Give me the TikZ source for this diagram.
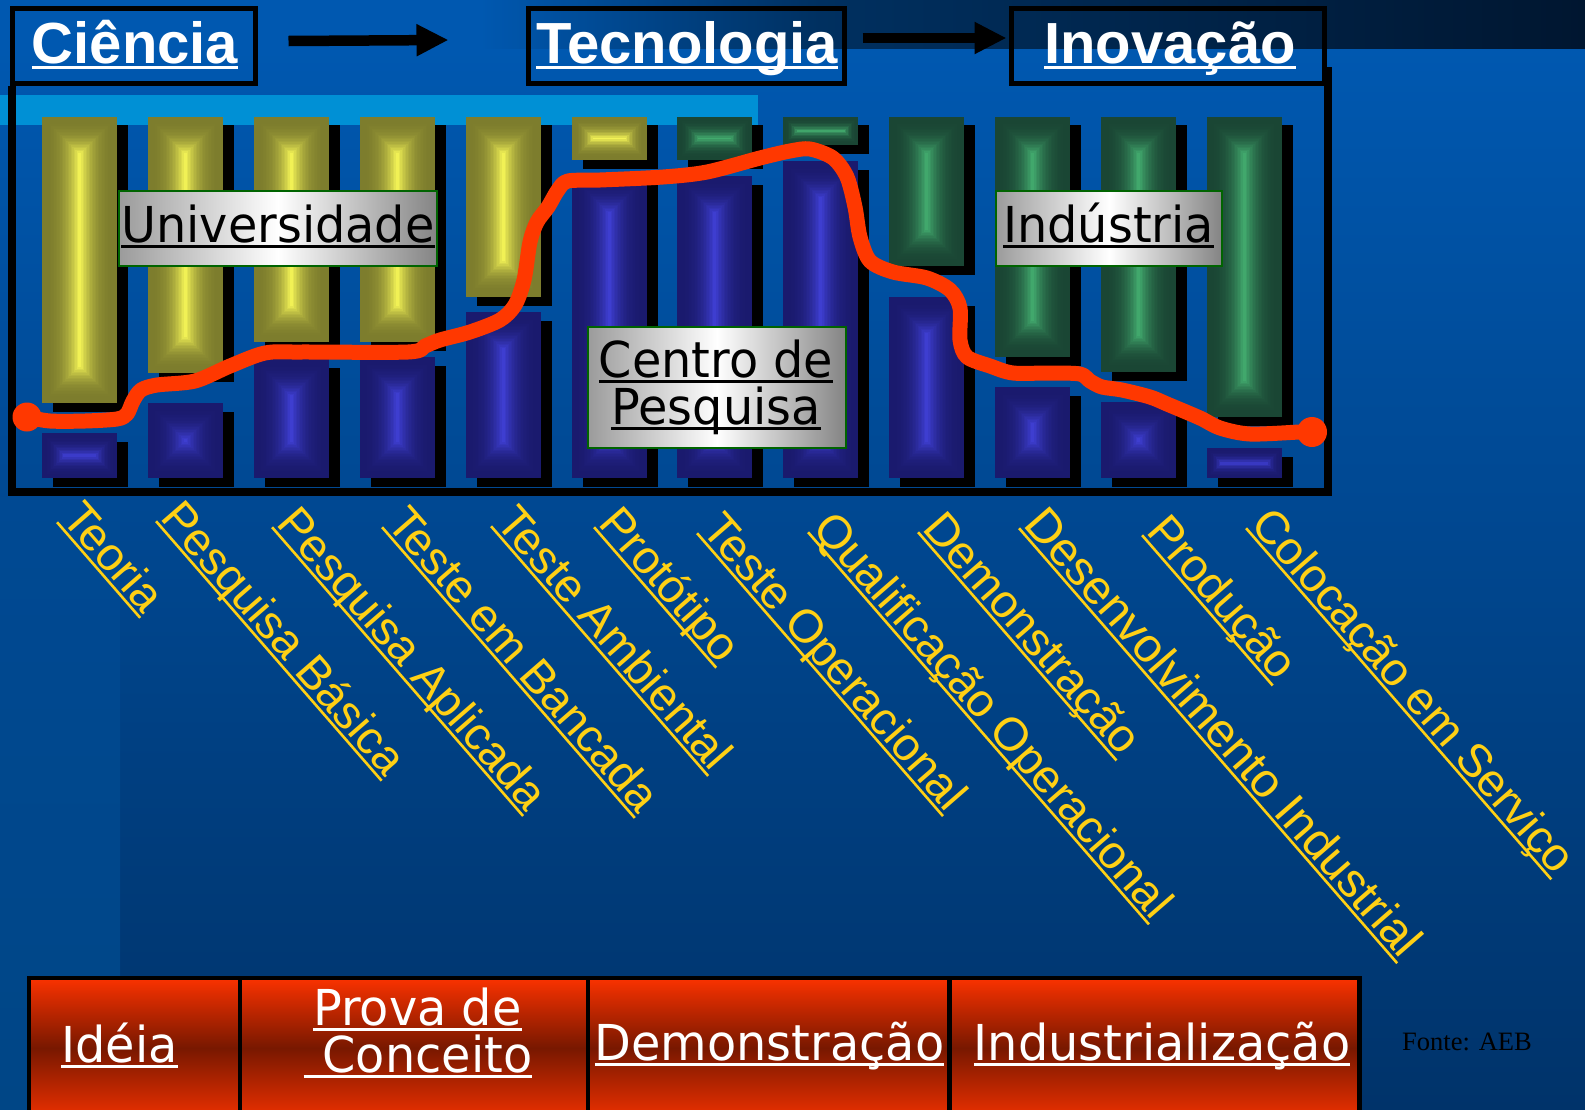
\documentclass[tikz,border=0pt]{standalone}
\usepackage{fontspec}
\usetikzlibrary{arrows.meta}
\setmainfont{Liberation Sans}
\newfontfamily\dvs[FakeStretch=0.965]{DejaVu Sans}
\newfontfamily\lserif{Liberation Serif}
\newsavebox\ulxbox
\newcommand\ulx[1]{\sbox\ulxbox{#1}\rlap{\vrule height -3.4pt depth 6pt width \wd\ulxbox}\usebox\ulxbox}
\definecolor{bgA}{RGB}{0,88,176}
\definecolor{bgB}{RGB}{0,51,106}
\definecolor{stripA}{RGB}{0,73,147}
\definecolor{stripB}{RGB}{0,70,134}
\definecolor{navyA}{RGB}{0,48,96}
\definecolor{navyB}{RGB}{0,22,48}
\definecolor{cyanband}{RGB}{0,144,213}
\definecolor{yo}{RGB}{125,125,45}
\definecolor{yi}{RGB}{255,255,90}
\definecolor{bo}{RGB}{26,26,110}
\definecolor{bi}{RGB}{66,66,220}
\definecolor{go}{RGB}{26,70,52}
\definecolor{gi}{RGB}{70,180,115}
\definecolor{redcurve}{RGB}{255,56,0}
\definecolor{labyellow}{RGB}{255,208,20}
\definecolor{metalg}{RGB}{155,155,155}
\definecolor{metalb}{RGB}{0,100,0}
\definecolor{rtop}{RGB}{250,50,0}
\definecolor{rmid}{RGB}{120,24,0}
\definecolor{rbot}{RGB}{236,48,0}
\newcommand\pbar[5]{%
  \fill[black] ({#1+11},{#2+8.5}) rectangle ({#1+86},{#3+8.5});
  \pgfmathsetmacro\pbh{#3-#2}%
  \pgfmathsetmacro\pbn{min(37.5,\pbh/2)}%
  \foreach \k in {0,...,25}{%
    \pgfmathsetmacro\ins{\k*1.5}%
    \pgfmathtruncatemacro\ok{\ins<\pbn}%
    \ifnum\ok=1
      \pgfmathtruncatemacro\pct{100*(\ins/\pbn)^2.6}%
      \fill[#5!\pct!#4] ({#1+\ins},{#2+\ins}) rectangle ({#1+75-\ins},{#3-\ins});%
    \fi
  }%
}
\begin{document}
\begin{tikzpicture}[x=1pt,y=-1pt,
  hbox/.style={draw=black, line width=5pt, inner sep=0pt, minimum height=75pt},
  htext/.style={anchor=base, inner sep=0pt, text=white, font=\bfseries\fontsize{58}{58}\selectfont},
  harrow/.style={line width=10.5pt, -{Triangle[length=32pt,width=30pt]}},
  rlab/.style={anchor=base west, rotate=-49, inner sep=0pt, text=labyellow, font=\fontsize{46.5}{46.5}\selectfont},
  metal/.style={draw=metalb, line width=2pt, inner sep=0pt, left color=metalg, right color=metalg!85!black, middle color=white},
  mtext/.style={anchor=base, inner sep=0pt, text=black, font=\dvs\fontsize{49.5}{49.5}\selectfont},
  cell/.style={draw=black, line width=4.5pt, inner sep=0pt, minimum height=140pt, top color=rtop, bottom color=rbot, middle color=rmid},
  ctext/.style={anchor=base, inner sep=0pt, text=white, font=\dvs\fontsize{49.5}{49.5}\selectfont}
]
\useasboundingbox (0,0) rectangle (1585,1109);
\begin{scope}
\clip (0,0) rectangle (1585,1109);
% background
\fill[bgA] (0,0) rectangle (1585,1109);
\shade[top color=bgA, bottom color=bgB] (0,48) rectangle (1585,1109);
\shade[left color=bgA, right color=navyA] (480,0) rectangle (820,48);
\shade[left color=navyA, right color=navyB] (820,0) rectangle (1585,48);
\shade[top color=stripA, bottom color=stripB] (0,497) rectangle (120,1109);
\fill[cyanband] (0,95) rectangle (758,125);
% bars
\pbar{42}{116.5}{403}{yo}{yi}      \pbar{42}{433}{478}{bo}{bi}
\pbar{147.9}{116.5}{373}{yo}{yi}   \pbar{147.9}{403}{478}{bo}{bi}
\pbar{253.8}{116.5}{342}{yo}{yi}   \pbar{253.8}{359}{478}{bo}{bi}
\pbar{359.7}{116.5}{342}{yo}{yi}   \pbar{359.7}{357}{478}{bo}{bi}
\pbar{465.6}{116.5}{297}{yo}{yi}   \pbar{465.6}{312}{478}{bo}{bi}
\pbar{571.5}{116.5}{160}{yo}{yi}   \pbar{571.5}{176}{478}{bo}{bi}
\pbar{677.4}{116.5}{160}{go}{gi}   \pbar{677.4}{176}{478}{bo}{bi}
\pbar{783.3}{116.5}{145}{go}{gi}   \pbar{783.3}{161}{478}{bo}{bi}
\pbar{889.2}{116.5}{266}{go}{gi}   \pbar{889.2}{297}{478}{bo}{bi}
\pbar{995.1}{116.5}{357}{go}{gi}   \pbar{995.1}{387}{478}{bo}{bi}
\pbar{1101}{116.5}{372}{go}{gi}    \pbar{1101}{402}{478}{bo}{bi}
\pbar{1206.9}{116.5}{417}{go}{gi}  \pbar{1206.9}{448}{478}{bo}{bi}
% frame
\draw[line width=8pt] (11.5,86) -- (11.5,492) -- (1328,492) -- (1328,67);
% label boxes
\node[metal, minimum width=318pt, minimum height=75pt] (univ) at (278,228.5) {};
\node[mtext] (univt) at (278,242) {\ulx{Universidade}};
\node[metal, minimum width=226pt, minimum height=75pt] (ind) at (1109,228.5) {};
\node[mtext] (indt) at (1108.5,242) {\ulx{Indústria}};
\node[metal, minimum width=258pt, minimum height=121pt] (cen) at (717,387.5) {};
\node[mtext] (cent1) at (716,377) {\ulx{Centro de}};
\node[mtext] (cent2) at (716,424) {\ulx{Pesquisa}};
% red curve
\draw[redcurve, line width=15pt, line cap=round, line join=round]
  plot[smooth, tension=0.5] coordinates {
  (27,417) (50,421) (85,421) (117,419) (127,414) (133,401) (141,390) (157,385)
  (195,381) (230,366) (265,353) (300,352) (408,352) (425,346) (440,340) (470,332)
  (500,320) (515,305) (524,280) (530,242) (537,222) (548,207) (558,190) (568,181)
  (600,180) (663,177) (707,172) (760,158) (790,151) (810,149) (833,158) (847,177)
  (855,207) (860,237) (870,261) (893,272) (927,278) (950,290) (960,308) (960,340)
  (967,357) (990,366) (1013,373) (1050,373) (1080,374) (1090,381) (1102,387)
  (1122,390) (1150,397) (1167,404) (1200,418) (1220,428) (1250,434) (1300,432) (1312,432)};
\fill[redcurve] (27,417) circle[radius=14.5pt];
\fill[redcurve] (1312,432) circle[radius=15pt];
% header
\node[hbox, minimum width=243pt] (cien) at (134,46) {};
\node[hbox, minimum width=316pt] (tec) at (686.5,46) {};
\node[hbox, minimum width=313pt] (ino) at (1167.5,46) {};
\node[htext] (cient) at (135,63) {\ulx{Ciência}};
\node[htext] (tect) at (687,63) {\ulx{Tecnologia}};
\node[htext] (inot) at (1170,63) {\ulx{Inovação}};
\draw[harrow] ([xshift=30.5pt,yshift=5pt]cien.east) -- ([xshift=-77.5pt,yshift=6pt]tec.west);
\draw[harrow] ([xshift=15.5pt,yshift=8pt]tec.east) -- ([xshift=-2pt,yshift=8pt]ino.west);
% rotated stage labels
\node[rlab] (l1) at (60.5,519) {\ulx{Teoria}};
\node[rlab] (l2) at (159.5,518) {\ulx{Pesquisa Básica}};
\node[rlab] (l3) at (275.5,524) {\ulx{Pesquisa Aplicada}};
\node[rlab] (l4) at (385.5,524) {\ulx{Teste em Bancada}};
\node[rlab] (l5) at (494.5,523) {\ulx{Teste Ambiental}};
\node[rlab] (l6) at (597.5,524) {\ulx{Protótipo}};
\node[rlab] (l7) at (700.5,530) {\ulx{Teste Operacional}};
\node[rlab] (l8) at (811.5,529) {\ulx{Qualificação Operacional}};
\node[rlab] (l9) at (921.5,529) {\ulx{Demonstração}};
\node[rlab, font=\fontsize{48}{48}\selectfont] (l10) at (1022.5,525) {\ulx{Desenvolvimento Industrial}};
\node[rlab] (l11) at (1145.5,532) {\ulx{Produção}};
\node[rlab] (l12) at (1249.5,525) {\ulx{Colocação em Serviço}};
% bottom phases
\node[cell, minimum width=211pt] (c1) at (134.5,1048) {};
\node[cell, minimum width=348pt] (c2) at (414,1048) {};
\node[cell, minimum width=361.5pt] (c3) at (768.75,1048) {};
\node[cell, minimum width=410pt] (c4) at (1154.5,1048) {};
\node[ctext] (c1t) at (119.5,1062) {\ulx{Idéia}};
\node[ctext] (c2t1) at (417.5,1025) {\ulx{Prova de}};
\node[ctext] (c2t2) at (418,1072) {\ulx{\hspace*{19pt}Conceito}};
\node[ctext] (c3t) at (769.5,1060) {\ulx{Demonstração}};
\node[ctext] (c4t) at (1162,1060) {\ulx{Industrialização}};
\node[anchor=base west, inner sep=0pt, text=black, font=\lserif\fontsize{26.5}{26.5}\selectfont] (fonte) at (1402,1050) {Fonte: AEB};
\end{scope}
\end{tikzpicture}
\end{document}
